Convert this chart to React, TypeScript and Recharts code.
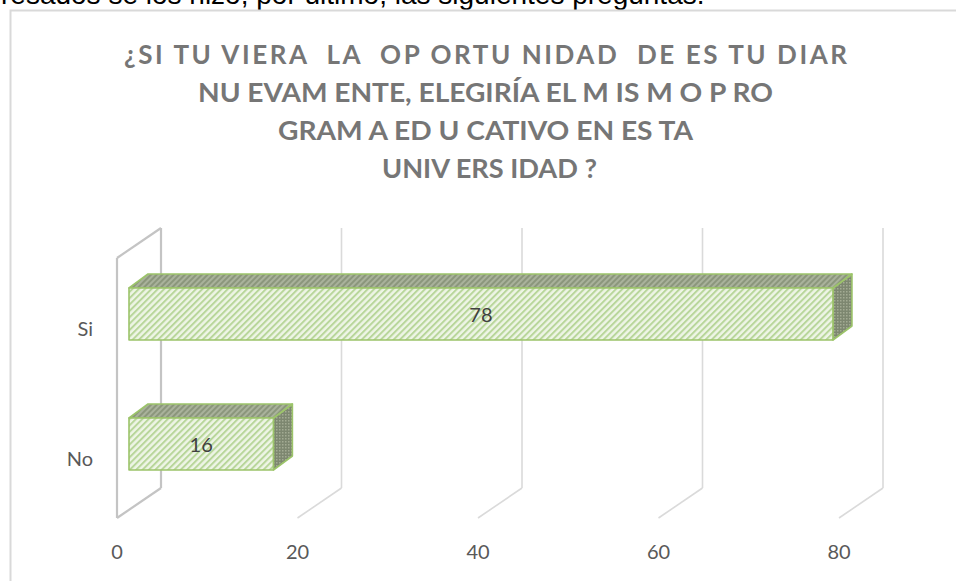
import React from "react";
import { BarChart, Bar, XAxis, YAxis, CartesianGrid, LabelList } from "recharts";

const answers = ["Si", "No"];
const counts = [78, 16];
const xTicks = [0, 20, 40, 60, 80];

const titleLines = [
  "¿SI TU VIERA  LA  OP ORTU NIDAD  DE ES TU DIAR",
  "NU EVAM ENTE, ELEGIRÍA EL M IS M O P RO",
  "GRAM A ED U CATIVO EN ES TA",
  "UNIV ERS IDAD ?",
];
const leadText = "resados se los hizo, por último, las siguientes preguntas.";

const data = answers.map((answer, i) => ({ answer, count: counts[i] }));

// oblique 3D offsets (px)
const WALL_DX = 44;
const WALL_DY = -30;
const BAR_X0 = 12;
const BAR_Y0 = -9;
const BAR_DX = 19;
const BAR_DY = -14;

const EDGE = "#9cc46a";

const gridLine = (props: any) => {
  const { x1, y1, y2, index } = props;
  const bx = x1 + WALL_DX;
  const wall = index === 0;
  const stroke = wall ? "#c4c4c4" : "#dadada";
  const sw = wall ? 2.2 : 1.6;
  return (
    <g key={`grid-${index}`} stroke={stroke} strokeWidth={sw} fill="none">
      <line x1={bx} y1={y1 + WALL_DY} x2={bx} y2={y2 + WALL_DY} />
      <line x1={bx} y1={y2 + WALL_DY} x2={x1} y2={y2} />
      {wall && (
        <>
          <line x1={x1} y1={y1} x2={x1} y2={y2} />
          <line x1={x1} y1={y1} x2={bx} y2={y1 + WALL_DY} />
        </>
      )}
    </g>
  );
};

const Box3D = (props: any) => {
  const { x, y, width, height } = props;
  if (!width) return null;
  const fx = x + BAR_X0;
  const fy = y + BAR_Y0;
  const rx = fx + width;
  const top = `${fx},${fy} ${fx + BAR_DX},${fy + BAR_DY} ${rx + BAR_DX},${fy + BAR_DY} ${rx},${fy}`;
  const side = `${rx},${fy} ${rx + BAR_DX},${fy + BAR_DY} ${rx + BAR_DX},${fy + height + BAR_DY} ${rx},${fy + height}`;
  return (
    <g stroke={EDGE} strokeWidth={1.6} strokeLinejoin="round">
      <polygon points={side} fill="url(#sideDots)" />
      <polygon points={top} fill="url(#topHatch)" />
      <rect x={fx} y={fy} width={width} height={height} fill="url(#frontHatch)" />
    </g>
  );
};

const valueLabel = (props: any) => {
  const { x, y, width, height, value } = props;
  return (
    <text
      x={x + BAR_X0 + width / 2}
      y={y + BAR_Y0 + height / 2}
      textAnchor="middle"
      dominantBaseline="central"
      fontFamily="Lato"
      fontSize={20}
      fill="#404040"
    >
      {value}
    </text>
  );
};

const CategoryTick = (props: any) => {
  const { x, y, payload } = props;
  return (
    <text x={x - 24} y={y + 5} textAnchor="end" dominantBaseline="central" fontFamily="Lato" fontSize={20} fill="#595959">
      {payload.value}
    </text>
  );
};

const ValueTick = (props: any) => {
  const { x, y, payload } = props;
  return (
    <text x={x} y={y + 33} textAnchor="middle" dominantBaseline="central" fontFamily="Lato" fontSize={20} fill="#595959">
      {payload.value}
    </text>
  );
};

const titleSpans = [
  { x: 124, w: 723, y: 54, fit: "spacing" },
  { x: 198, w: 575, y: 92, fit: "spacingAndGlyphs" },
  { x: 278, w: 415, y: 130, fit: "spacingAndGlyphs" },
  { x: 382, w: 215, y: 168, fit: "spacingAndGlyphs" },
];

export default function App() {
  return (
    <>
      {/* keeps the page flow as tall as the figure */}
      <div style={{ height: 560 }} />
      <div
        style={{
          position: "fixed",
          left: 0,
          top: 0,
          width: 956,
          height: 581,
          overflow: "hidden",
          background: "#fff",
        }}
      >
        <svg width={956} height={581} style={{ position: "absolute", left: 0, top: 0 }}>
          <defs>
            <clipPath id="leadClip">
              <rect x={0} y={0} width={956} height={10} />
            </clipPath>
          </defs>
          {/* sentence from the page above the chart, only its lower edge shows */}
          <g clipPath="url(#leadClip)">
            <text x={1} y={4} fontFamily="Liberation Sans" fontSize={28} fill="#000">
              {leadText}
            </text>
          </g>
          <path d="M10.5,600 L10.5,10.5 L960,10.5" stroke="#d9d9d9" strokeWidth={2} fill="none" />
          {titleLines.map((line, i) => (
            <text
              key={i}
              x={titleSpans[i].x}
              y={titleSpans[i].y}
              dominantBaseline="central"
              fontFamily="Lato"
              fontWeight="bold"
              fontSize={26}
              fill="#767676"
              textLength={titleSpans[i].w}
              lengthAdjust={titleSpans[i].fit}
              style={{ whiteSpace: "pre" }}
            >
              {line}
            </text>
          ))}
        </svg>
        <div style={{ position: "absolute", left: 0, top: 0 }}>
          <BarChart
            width={956}
            height={581}
            data={data}
            layout="vertical"
            barSize={52}
            margin={{ top: 258, right: 117, bottom: 23, left: 57 }}
          >
            <defs>
              <pattern id="frontHatch" patternUnits="userSpaceOnUse" width={4.5} height={4.5} patternTransform="rotate(45)">
                <rect width={4.5} height={4.5} fill="#eef5e6" />
                <rect width={2} height={4.5} fill="#b8d69a" />
              </pattern>
              <pattern id="topHatch" patternUnits="userSpaceOnUse" width={4} height={4} patternTransform="rotate(45)">
                <rect width={4} height={4} fill="#a9b29b" />
                <rect width={2} height={4} fill="#8b967c" />
              </pattern>
              <pattern id="sideDots" patternUnits="userSpaceOnUse" width={3} height={3}>
                <rect width={3} height={3} fill="#7d8770" />
                <rect width={1.5} height={1.5} fill="#a3ab93" />
              </pattern>
            </defs>
            <CartesianGrid horizontal={false} vertical={gridLine} />
            <XAxis
              type="number"
              domain={[0, 80]}
              ticks={xTicks}
              axisLine={false}
              tickLine={false}
              tickSize={0}
              tickMargin={0}
              height={40}
              tick={<ValueTick />}
            />
            <YAxis
              type="category"
              dataKey="answer"
              axisLine={false}
              tickLine={false}
              tickSize={0}
              tickMargin={0}
              width={60}
              tick={<CategoryTick />}
            />
            <Bar dataKey="count" shape={<Box3D />} isAnimationActive={false}>
              <LabelList dataKey="count" content={valueLabel} />
            </Bar>
          </BarChart>
        </div>
      </div>
    </>
  );
}
